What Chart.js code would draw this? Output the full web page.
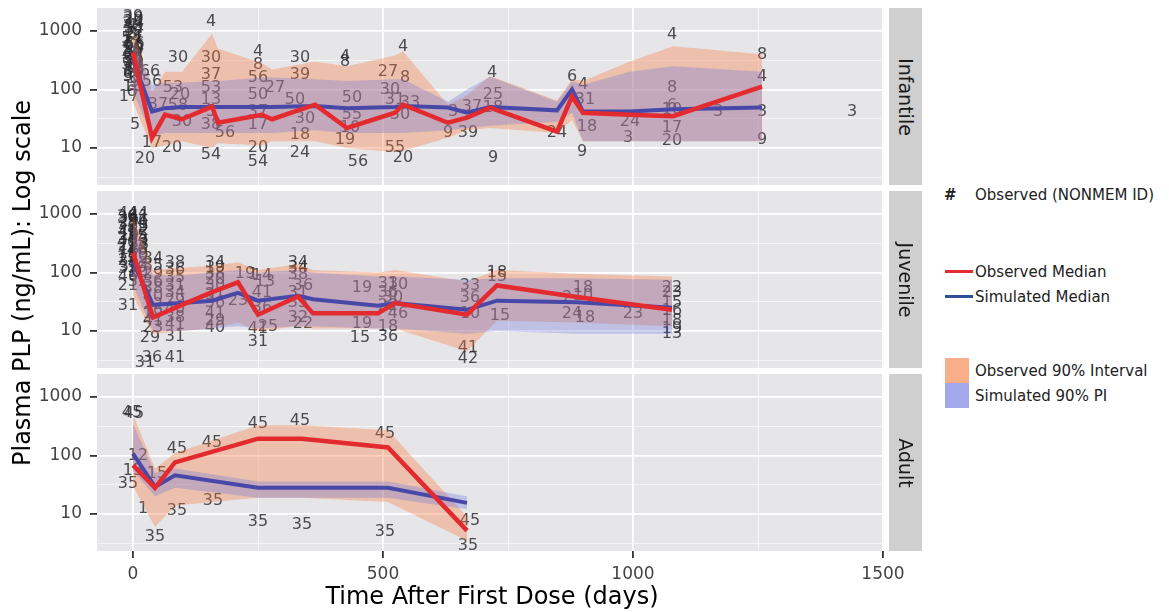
<!DOCTYPE html>
<html>
<head>
<meta charset="utf-8">
<script src="https://cdn.jsdelivr.net/npm/chart.js@4.4.1/dist/chart.umd.min.js"></script>
<style>
  body { margin: 0; background: #fff; font-family: "DejaVu Sans", sans-serif; }
  #wrap { position: relative; width: 1169px; height: 612px; overflow: hidden; }
  canvas { position: absolute; left: 0; }
  .strip { position: absolute; left: 889px; width: 33px; background: #cfcfcf; z-index: 2; }
  .strip span { position: absolute; left: 50%; top: 50%; transform: translate(-50%, -50%) rotate(90deg);
    white-space: nowrap; font-size: 19px; color: #1a1a1a; }
  .ytitle { position: absolute; left: 22px; top: 283px; transform: translate(-50%, -50%) rotate(-90deg);
    white-space: nowrap; font-size: 24px; color: #000; }
  .xtitle { position: absolute; left: 492px; top: 596px; transform: translate(-50%, -50%);
    white-space: nowrap; font-size: 24px; color: #000; }
  .lg { position: absolute; font-size: 15px; color: #222; white-space: nowrap; transform: translateY(-50%); }
  .sw { position: absolute; }
</style>
</head>
<body>
<div id="wrap">
  <canvas id="cInf" width="930" height="177" style="top:8px"></canvas>
  <canvas id="cJuv" width="930" height="177" style="top:191px"></canvas>
  <canvas id="cAdu" width="930" height="217" style="top:374px"></canvas>

  <div class="strip" style="top:8px;height:177px"><span>Infantile</span></div>
  <div class="strip" style="top:191px;height:177px"><span>Juvenile</span></div>
  <div class="strip" style="top:374px;height:177px"><span>Adult</span></div>

  <div class="ytitle">Plasma PLP (ng/mL): Log scale</div>
  <div class="xtitle">Time After First Dose (days)</div>

  <div class="lg" style="left:944px;top:195px;font-weight:bold">#</div>
  <div class="lg" style="left:975px;top:195px">Observed (NONMEM ID)</div>
  <div class="sw" style="left:945px;top:270px;width:28px;height:3px;background:#e32a2f"></div>
  <div class="lg" style="left:975px;top:272px">Observed Median</div>
  <div class="sw" style="left:945px;top:295px;width:28px;height:3px;background:#2f4f96"></div>
  <div class="lg" style="left:975px;top:297px">Simulated Median</div>
  <div class="sw" style="left:945px;top:358px;width:24px;height:25px;background:rgba(245,120,60,0.6)"></div>
  <div class="sw" style="left:945px;top:383px;width:24px;height:25px;background:rgba(100,110,220,0.6)"></div>
  <div class="lg" style="left:975px;top:371px">Observed 90% Interval</div>
  <div class="lg" style="left:975px;top:396px">Simulated 90% PI</div>
</div>

<script>
// ---------- axis ticks ----------
const xTicks = [0, 250, 500, 750, 1000, 1250, 1500];
const xLabelled = [0, 500, 1000, 1500];
const yTicks = [3.1623, 10, 31.623, 100, 316.23, 1000];
const yLabelled = [10, 100, 1000];

// ---------- Infantile ----------
const infDays   = [0, 38, 64, 98, 158, 170, 258, 278, 364, 428, 524, 540, 630, 668, 714, 848, 878, 900, 994, 1080, 1258];
const infObsMed = [429, 15, 37, 31, 51, 27, 37, 31, 55, 22, 40, 55, 27, 33, 49, 19, 76, 40, 37, 35, 112];
const infSimMed = [320, 42, 48, 50, 50, 50, 50, 50, 52, 48, 50, 52, 49, 40, 50, 44, 100, 42, 42, 46, 49];
const infObsHi  = [1100, 90, 200, 200, 900, 500, 280, 220, 300, 250, 380, 450, 55, 80, 170, 65, 150, 140, 300, 550, 400];
const infObsLo  = [60, 10, 11, 13, 10, 12, 11, 13, 13, 10, 8.5, 9, 15, 20, 22, 18, 30, 13, 13, 13, 13];
const infSimHi  = [700, 120, 130, 130, 140, 140, 160, 160, 150, 140, 150, 150, 62, 100, 165, 62, 137, 120, 200, 250, 200];
const infSimLo  = [90, 16, 18, 18, 18, 18, 18, 18, 20, 18, 18, 18, 20, 22, 24, 28, 40, 13, 13, 13, 13];

const infIdDay = [0, 0, -3, 3, 0, -3, 3, 0, -3, 3, 0, -3, 3, 0, -3, 3, 0, -3, -8, 4,
  1, -1, 2, -2, 1, -1, 2, -2, 1, -1, 2, -2, 0, 0,
  34, 38, 50, 80, 94, 90, 98, 38, 78, 24, 90,
  156, 156, 156, 156, 156, 156, 156, 184, 156,
  250, 250, 250, 250, 250, 250, 250, 250, 284,
  334, 334, 324, 344, 334, 334,
  424, 424, 438, 438, 434, 424, 450,
  510, 514, 524, 534, 524, 540, 544, 540, 554,
  630, 640, 670, 678, 718, 720, 720, 720,
  848, 878, 900, 904, 908, 898, 994, 990,
  1078, 1078, 1078, 1078, 1078, 1078, 1170, 1258, 1258, 1258, 1258, 1438];
const infIdVal = [1770, 1450, 1200, 1000, 850, 720, 610, 520, 440, 370, 310, 260, 220, 185, 155, 130, 110, 92, 76, 25,
  1600, 1300, 1100, 900, 780, 660, 560, 480, 400, 340, 280, 235, 200, 165,
  203, 137, 55, 108, 82, 53, 28, 12.4, 10.2, 6.4, 352,
  1450, 352, 180, 108, 67, 42, 25, 18, 7.7,
  446, 267, 160, 82, 42, 25, 10.2, 5.9, 108,
  352, 180, 67, 31, 17, 8.4,
  366, 301, 73, 37, 22, 14, 5.9,
  203, 100, 67, 37, 10.2, 6.9, 160, 543, 60,
  18, 42, 18, 51, 195, 82, 49, 6.8,
  18, 167, 122, 67, 23, 8.7, 28, 15,
  871, 108, 53, 45, 22, 13, 42, 397, 167, 42, 14, 42];
const infIdText = ["39", "30", "4", "37", "8", "54", "56", "20", "24", "27", "59", "50", "53", "66", "3", "9", "10", "6", "17", "5",
  "20", "24", "54", "3", "11", "17", "66", "56", "8", "30", "39", "4", "37", "53",
  "66", "56", "37", "53", "20", "58", "30", "17", "20", "20", "30",
  "4", "30", "37", "53", "13", "5", "38", "56", "54",
  "4", "8", "56", "50", "37", "17", "20", "54", "27",
  "30", "39", "50", "30", "18", "24",
  "4", "8", "50", "55", "10", "19", "56",
  "27", "30", "31", "30", "55", "20", "8", "4", "33",
  "9", "3", "39", "37", "4", "25", "18", "9",
  "24", "6", "4", "31", "18", "9", "24", "3",
  "4", "8", "6", "10", "17", "20", "3", "8", "4", "3", "9", "3"];

// ---------- Juvenile ----------
const juvDays   = [0, 40, 98, 158, 210, 250, 330, 360, 490, 524, 668, 728, 888, 1078];
const juvObsMed = [218, 17, 28, 46, 68, 19, 39, 20, 20, 30, 19, 60, 38, 23];
const juvSimMed = [150, 28, 30, 33, 45, 33, 40, 35, 27, 30, 23, 33, 31, 25];
const juvObsHi  = [900, 110, 120, 130, 150, 110, 140, 110, 100, 110, 70, 110, 95, 85];
const juvObsLo  = [40, 9, 10, 11, 14, 10, 12, 11, 11, 11, 4.5, 15, 14, 12];
const juvSimHi  = [700, 90, 90, 100, 110, 100, 110, 100, 85, 85, 75, 80, 80, 75];
const juvSimLo  = [60, 10, 10, 11, 12, 11, 12, 12, 11, 11, 9, 10, 9, 9];

const juvIdDay = [-10, 10, -10, 10, -10, 10, -10, 10, -10, 10, -10, 10, -10, 10, -10, 10, -10, 10, -10, 10, -10, -10,
  -12, 12, -8, 8, -12, 12, -8, 8, -12, 12, -8, 8, -12, 12, -8, 8,
  40, 40, 40, 40, 40, 40, 40, 40, 40, 40, 34, 38, 24,
  84, 84, 84, 84, 84, 84, 84, 84, 84, 84, 84,
  164, 164, 164, 164, 164, 164, 164, 164, 164, 164,
  224, 240, 210,
  258, 264, 258, 258, 250, 270, 250,
  330, 330, 330, 340, 330, 330, 330, 340,
  458, 458, 454,
  510, 530, 510, 520, 510, 530, 510, 510,
  674, 674, 674, 670, 670,
  728, 728, 734,
  900, 868, 878, 904, 900, 1000,
  1078, 1078, 1078, 1078, 1078, 1078, 1078];
const juvIdVal = [1000, 1000, 820, 760, 640, 580, 480, 440, 370, 330, 280, 250, 210, 190, 160, 140, 115, 100, 85, 70, 58, 27,
  900, 880, 720, 700, 560, 520, 420, 400, 320, 300, 240, 230, 175, 170, 125, 120,
  173, 130, 95, 70, 52, 38, 28, 20, 15, 11.5, 7.5, 3.5, 2.9,
  148, 110, 80, 60, 45, 33, 24, 17, 12.5, 8, 3.5,
  148, 120, 95, 75, 58, 42, 30, 20, 15, 11.5,
  96, 90, 33,
  89, 70, 45, 25, 11, 12, 6.4,
  148, 120, 90, 60, 45, 30, 17, 13,
  55, 13, 7.5,
  65, 62, 45, 37, 27, 20, 12, 8,
  60, 37, 20, 5.2, 3.4,
  100, 85, 18,
  55, 37, 20, 17, 40, 20,
  55, 45, 30, 22, 15, 11, 9];
const juvIdText = ["44", "44", "34", "36", "31", "29", "41", "35", "38", "19", "22", "18", "15", "40", "23", "42", "33", "10", "46", "32", "21", "31",
  "36", "41", "29", "34", "38", "22", "19", "35", "40", "23", "18", "46", "15", "42", "33", "10",
  "34", "35", "29", "36", "38", "40", "22", "19", "41", "23", "29", "36", "31",
  "38", "36", "35", "31", "34", "29", "40", "38", "41", "31", "41",
  "34", "19", "38", "20", "30", "31", "36", "41", "29", "40",
  "19", "1", "23",
  "14", "13", "41", "36", "41", "25", "31",
  "34", "34", "38", "36", "31", "35", "32", "22",
  "19", "19", "15",
  "33", "10", "36", "30", "22", "46", "18", "36",
  "33", "36", "10", "41", "42",
  "18", "15", "15",
  "18", "2", "24", "18", "10", "23",
  "22", "23", "15", "16", "18", "19", "13"];

// ---------- Adult ----------
const aduDays   = [0, 44, 84, 250, 338, 510, 668];
const aduObsMed = [68, 28, 76, 194, 194, 137, 5.2];
const aduSimMed = [108, 29, 46, 28, 28, 28, 15.5];
const aduObsHi  = [500, 60, 110, 330, 330, 270, 9];
const aduObsLo  = [30, 6, 14, 19, 19, 16, 3.5];
const aduSimHi  = [350, 50, 60, 36, 36, 36, 20];
const aduSimLo  = [55, 20, 28, 19, 19, 19, 12];

const aduIdDay  = [-2, 2, 10, 0, -10, 48, 20, 44, 88, 88, 158, 160, 250, 250, 334, 338, 504, 504, 674, 670];
const aduIdVal  = [543, 520, 100, 55, 33, 49, 12.4, 4, 132, 11.5, 167, 17, 352, 7.2, 397, 6.4, 238, 5, 7.7, 2.9];
const aduIdText = ["45", "45", "12", "15", "35", "15", "1", "35", "45", "35", "45", "35", "45", "35", "45", "35", "45", "35", "45", "35"];

// ---------- styling ----------
const FONT = "'DejaVu Sans', sans-serif";
const RED = '#e32a2f';
const BLUE = '#4848a8';
const OBS_FILL = 'rgba(245,120,60,0.35)';
const SIM_FILL = 'rgba(100,110,220,0.30)';
const NONE = 'rgba(0,0,0,0)';
const GRID_MAJOR = '#ffffff';
const GRID_MINOR = 'rgba(255,255,255,0.6)';

Chart.defaults.font.family = FONT;

const pts = (xs, ys) => xs.map((x, i) => ({ x: x, y: ys[i] }));

// grey panel background behind the grid
const panelBg = {
  id: 'panelBg',
  beforeDraw(chart) {
    const a = chart.chartArea, ctx = chart.ctx;
    ctx.save();
    ctx.fillStyle = '#e6e6e9';
    ctx.fillRect(a.left, a.top, a.right - a.left, a.bottom - a.top);
    ctx.restore();
  }
};

// subject ID numbers written at their observation points
const idText = {
  id: 'idText',
  beforeDatasetsDraw(chart) {
    const ctx = chart.ctx, a = chart.chartArea;
    chart.data.datasets.forEach((ds, di) => {
      if (!ds.ids) return;
      const meta = chart.getDatasetMeta(di);
      ctx.save();
      ctx.beginPath();
      ctx.rect(a.left, a.top, a.right - a.left, a.bottom - a.top);
      ctx.clip();
      ctx.font = '16px ' + FONT;
      ctx.fillStyle = 'rgba(40,40,45,0.82)';
      ctx.textAlign = 'center';
      ctx.textBaseline = 'middle';
      meta.data.forEach((el, i) => ctx.fillText(ds.ids[i], el.x, el.y));
      ctx.restore();
    });
  }
};

function makePanel(id, p, bottom) {
  const isMajorX = c => xLabelled.includes(c.tick.value);
  const isMajorY = c => yLabelled.includes(c.tick.value);
  return new Chart(document.getElementById(id), {
    type: 'line',
    data: {
      datasets: [
        { label: 'Observed Median', data: pts(p.days, p.obsMed), borderColor: RED, borderWidth: 4.5, pointRadius: 0, fill: false, tension: 0 },
        { label: 'Simulated Median', data: pts(p.days, p.simMed), borderColor: BLUE, borderWidth: 4, pointRadius: 0, fill: false, tension: 0 },
        { label: 'Simulated 90% PI', data: pts(p.days, p.simHi), borderColor: NONE, borderWidth: 0, pointRadius: 0, backgroundColor: SIM_FILL, fill: '+1' },
        { data: pts(p.days, p.simLo), borderColor: NONE, borderWidth: 0, pointRadius: 0, fill: false },
        { label: 'Observed 90% Interval', data: pts(p.days, p.obsHi), borderColor: NONE, borderWidth: 0, pointRadius: 0, backgroundColor: OBS_FILL, fill: '+1' },
        { data: pts(p.days, p.obsLo), borderColor: NONE, borderWidth: 0, pointRadius: 0, fill: false },
        { label: 'Observed (NONMEM ID)', data: pts(p.idDay, p.idVal), ids: p.idText, showLine: false, pointRadius: 0, borderColor: NONE }
      ]
    },
    options: {
      responsive: false,
      animation: false,
      events: [],
      layout: { padding: { left: 0, right: 46, top: 0, bottom: 0 } },
      plugins: { legend: { display: false }, tooltip: { enabled: false } },
      scales: {
        x: {
          type: 'linear', min: -72, max: 1502, bounds: 'data',
          afterBuildTicks: s => { s.ticks = xTicks.map(v => ({ value: v })); },
          afterFit: s => { s.height = bottom ? 40 : 0; s.paddingLeft = 0; s.paddingRight = 0; },
          border: { display: false },
          grid: {
            color: c => isMajorX(c) ? GRID_MAJOR : GRID_MINOR,
            lineWidth: c => isMajorX(c) ? 1.8 : 1,
            drawTicks: bottom, tickLength: 7,
            tickColor: c => isMajorX(c) ? '#333' : NONE
          },
          ticks: {
            display: bottom, autoSkip: false, maxRotation: 0, padding: 6,
            color: '#444', font: { size: 17 },
            callback: v => xLabelled.includes(v) ? String(v) : ''
          }
        },
        y: {
          type: 'logarithmic', min: 2.33, max: 2470, bounds: 'data',
          afterBuildTicks: s => { s.ticks = yTicks.map(v => ({ value: v })); },
          afterFit: s => { s.width = 97; s.paddingTop = 0; s.paddingBottom = 0; },
          border: { display: false },
          grid: {
            color: c => isMajorY(c) ? GRID_MAJOR : GRID_MINOR,
            lineWidth: c => isMajorY(c) ? 1.8 : 1,
            drawTicks: true, tickLength: 7,
            tickColor: c => isMajorY(c) ? '#333' : NONE
          },
          ticks: {
            padding: 8, color: '#444', font: { size: 17 },
            callback: v => yLabelled.includes(v) ? String(v) : ''
          }
        }
      }
    },
    plugins: [panelBg, idText]
  });
}

makePanel('cInf', { days: infDays, obsMed: infObsMed, simMed: infSimMed, obsHi: infObsHi, obsLo: infObsLo,
  simHi: infSimHi, simLo: infSimLo, idDay: infIdDay, idVal: infIdVal, idText: infIdText }, false);
makePanel('cJuv', { days: juvDays, obsMed: juvObsMed, simMed: juvSimMed, obsHi: juvObsHi, obsLo: juvObsLo,
  simHi: juvSimHi, simLo: juvSimLo, idDay: juvIdDay, idVal: juvIdVal, idText: juvIdText }, false);
makePanel('cAdu', { days: aduDays, obsMed: aduObsMed, simMed: aduSimMed, obsHi: aduObsHi, obsLo: aduObsLo,
  simHi: aduSimHi, simLo: aduSimLo, idDay: aduIdDay, idVal: aduIdVal, idText: aduIdText }, true);
</script>
</body>
</html>
